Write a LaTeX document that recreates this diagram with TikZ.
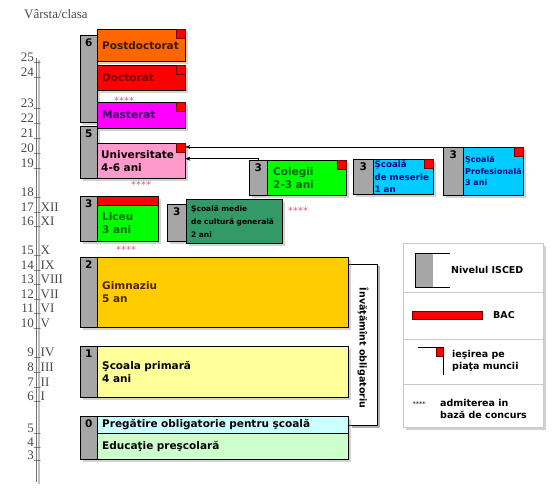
\documentclass[tikz,border=0pt]{standalone}
\usepackage{fontspec}
\setmainfont{Liberation Serif}
\setsansfont{DejaVu Sans}
\usepackage{tikz}
\usetikzlibrary{arrows.meta,positioning,shadows}

\definecolor{isced}{HTML}{A6A6A6}
\definecolor{postc}{HTML}{FF6600}
\definecolor{postt}{HTML}{331A00}
\definecolor{docc}{HTML}{FF0000}
\definecolor{doct}{HTML}{7A0000}
\definecolor{mastc}{HTML}{FF00FF}
\definecolor{mastt}{HTML}{330066}
\definecolor{univc}{HTML}{FF99CC}
\definecolor{colc}{HTML}{00FF00}
\definecolor{colt}{HTML}{006600}
\definecolor{blu}{HTML}{00CCFF}
\definecolor{blut}{HTML}{000080}
\definecolor{medc}{HTML}{339966}
\definecolor{gimc}{HTML}{FFCC00}
\definecolor{gimt}{HTML}{4D2600}
\definecolor{primc}{HTML}{FFFF99}
\definecolor{pregc}{HTML}{CCFFFF}
\definecolor{educ}{HTML}{CCFFCC}
\definecolor{starc}{HTML}{CC6677}
\definecolor{agec}{HTML}{4A4A4A}
\definecolor{leggray}{HTML}{C8C8C8}

\begin{document}
\begin{tikzpicture}[x=1pt, y=-1pt,
  >={Stealth[length=5pt, width=4pt]},
  dshadow/.style={drop shadow={shadow xshift=2.5pt, shadow yshift=-2.5pt, opacity=.35}},
  lvl/.style={draw, fill=isced, anchor=north west, inner sep=0pt, dshadow},
  num/.style={anchor=north, yshift=-3pt, inner sep=1pt, font=\sffamily\bfseries\fontsize{10.5}{12}\selectfont},
  stage/.style={draw, anchor=north west, inner xsep=5pt, inner ysep=0pt, align=left, dshadow,
    font=\sffamily\bfseries\fontsize{10.5}{13}\selectfont},
  exitsq/.style={draw=red!45!black, fill=red, anchor=north east, minimum size=9pt, inner sep=0pt},
  stars/.style={text=starc, inner sep=0pt, font=\sffamily\fontsize{10}{10}\selectfont},
  age/.style={text=agec, inner sep=0pt, font=\fontsize{13}{13}\selectfont},
  legtext/.style={anchor=west, align=left, inner sep=0pt, font=\sffamily\bfseries\fontsize{9.5}{11.5}\selectfont}
]
\path[fill=white] (0,0) rectangle (555,494);

% age / class axis
\node[age, anchor=west] (title) at (24,14) {Vârsta/clasa};
\draw[black!25, line width=2pt] (38.5,60) -- (38.5,484);
\draw[black!55, line width=1pt] (36.5,58) -- (36.5,482);
\foreach \a/\c/\y in {25//57,24//72,23//103,22//118,21//133,20//148,19//163,18//192,
  17/XII/207,16/XI/221,15/X/250,14/IX/265,13/VIII/279,12/VII/294,11/VI/308,10/V/323,
  9/IV/352,8/III/367,7/II/382,6/I/396,5//428,4//442,3//455}
{
  \node[age, anchor=base east] (y\a) at (34,\y+4.5) {\a};
  \node[age, anchor=base west] (k\a) at (y\a.base east) {\_\c};
}

% ISCED columns
\node[lvl, minimum width=17pt, minimum height=87pt] (g6) at (80,35) {};
\node[lvl, minimum width=17pt, minimum height=52pt] (g5) at (80,126) {};
\node[lvl, minimum width=18pt, minimum height=35pt] (g3c) at (249,160) {};
\node[lvl, minimum width=20pt, minimum height=35pt] (g3m) at (353,159) {};
\node[lvl, minimum width=20pt, minimum height=48pt] (g3p) at (443,147) {};
\node[lvl, minimum width=17pt, minimum height=45pt] (g3l) at (80,196) {};
\node[lvl, minimum width=19pt, minimum height=37pt] (g3s) at (167,204) {};
\node[lvl, minimum width=17pt, minimum height=70pt] (g2) at (80,257) {};
\node[lvl, minimum width=17pt, minimum height=51pt] (g1) at (80,346) {};
\node[lvl, minimum width=17pt, minimum height=43pt] (g0) at (80,416) {};

% compulsory schooling bracket
\coordinate (ob1) at (377,264);
\coordinate (ob2) at (377,425);
\draw[black!30, line width=2pt, transform canvas={shift={(2pt,-2pt)}}] (ob1) -- (ob2) -- (ob2 -| 350,0);
\draw (ob1 -| 348,0) -- (ob1) -- (ob2) -- (ob2 -| 348,0);
\node[rotate=-90, inner sep=0pt, font=\sffamily\bfseries\fontsize{9.5}{10}\selectfont] (oblig) at (363,348) {Învăţămînt obligatoriu};

% programmes
\node[stage, fill=postc, text=postt, text width=78pt, minimum height=32pt] (post) at (97,29) {Postdoctorat};
\node[stage, fill=docc, text=doct, text width=78pt, minimum height=25pt] (doc) at (97,65) {Doctorat};
\node[stage, fill=mastc, text=mastt, text width=78pt, minimum height=26pt] (mast) at (97,102) {Masterat};
\node[stage, fill=univc, inner xsep=4pt, text width=80pt, minimum height=35pt] (univ) at (97,143) {Universitate\\4-6 ani};
\node[stage, fill=colc, text=colt, inner xsep=6pt, text width=67pt, minimum height=35pt] (col) at (267,160) {Colegii\\2-3 ani};
\node[stage, fill=blu, text=blut, inner xsep=1.5pt, text width=57pt, minimum height=35pt,
  font=\sffamily\bfseries\fontsize{8.7}{12.5}\selectfont] (mes) at (373,159) {Şcoală\\de meserie\\1 an};
\node[stage, fill=blu, text=blut, inner xsep=2pt, text width=56pt, minimum height=48pt,
  font=\sffamily\bfseries\fontsize{8}{11.5}\selectfont] (prof) at (463,147) {Şcoală\\Profesională\\3 ani};
\node[draw, fill=red, anchor=north west, inner sep=0pt, minimum width=61pt, minimum height=9pt, dshadow] (bac) at (97,196) {};
\node[stage, fill=colc, text=colt, text width=51pt, minimum height=36pt] (lic) at (97,205) {Liceu\\3 ani};
\node[stage, fill=medc, text width=86pt, minimum height=44pt,
  font=\sffamily\bfseries\fontsize{7.5}{13}\selectfont] (med) at (186,199) {Şcoală medie\\de cultură generală\\2 ani};
\node[stage, fill=gimc, text=gimt, text width=241pt, minimum height=70pt] (gim) at (97,257) {Gimnaziu\\5 an};
\node[stage, fill=primc, text width=241pt, minimum height=51pt] (prim) at (97,346) {Şcoala primară\\4 ani};
\node[stage, fill=pregc, text width=241pt, minimum height=17pt] (preg) at (97,416) {Pregătire obligatorie pentru şcoală};
\node[stage, fill=educ, text width=241pt, minimum height=26pt] (edu) at (97,433) {Educaţie preşcolară};

\foreach \g/\n in {g6/6,g5/5,g3c/3,g3m/3,g3p/3,g3l/3,g3s/3,g2/2,g1/1,g0/0}
  \node[num] (n\g) at (\g.north) {\n};
\foreach \b in {post,doc,mast,univ,col,mes,prof}
  \node[exitsq] (x\b) at (\b.north east) {};

% entrance by exam
\node[stars] (s1) at (124,101) {****};
\node[stars] (s2) at (141,185) {****};
\node[stars] (s3) at (298,211) {****};
\node[stars] (s4) at (126,250) {****};

% ways into university
\draw[->] (g3p.north west) -- (g3p.north west -| univ.east);
\draw[->] (g3c.north) |- ([yshift=2pt]univ.east);

% legend
\node[draw=leggray, fill=white, anchor=north west, inner sep=0pt, minimum width=140pt, minimum height=184pt, dshadow] (leg) at (403,243) {};
\draw[leggray] (403,292) -- (543,292);
\draw[leggray] (403,339) -- (543,339);
\draw[leggray] (403,384) -- (543,384);
\fill[isced] (415,253) rectangle (433,287);
\draw (450,253) -- (415,253) -- (415,287) -- (450,287);
\node[legtext] (lisc) at (451,270) {Nivelul ISCED};
\node[draw=red!45!black, fill=red, anchor=north west, inner sep=0pt, minimum width=70pt, minimum height=8pt] (lbar) at (412,311) {};
\node[legtext] (lbac) at (493,315) {BAC};
\coordinate (lx) at (418,347);
\node[exitsq, minimum width=7pt, minimum height=9pt] (lsq) at (443,347) {};
\draw (lx) -- (lsq.north east) -- ++(0,28);
\node[legtext] (lexit) at (452,361) {ieşirea pe\\piaţa muncii};
\node[inner sep=0pt, font=\sffamily\fontsize{6.5}{7}\selectfont] (lstar) at (419,404) {****};
\node[legtext] (ladm) at (440,409) {admiterea in\\bază de concurs};
\end{tikzpicture}
\end{document}
